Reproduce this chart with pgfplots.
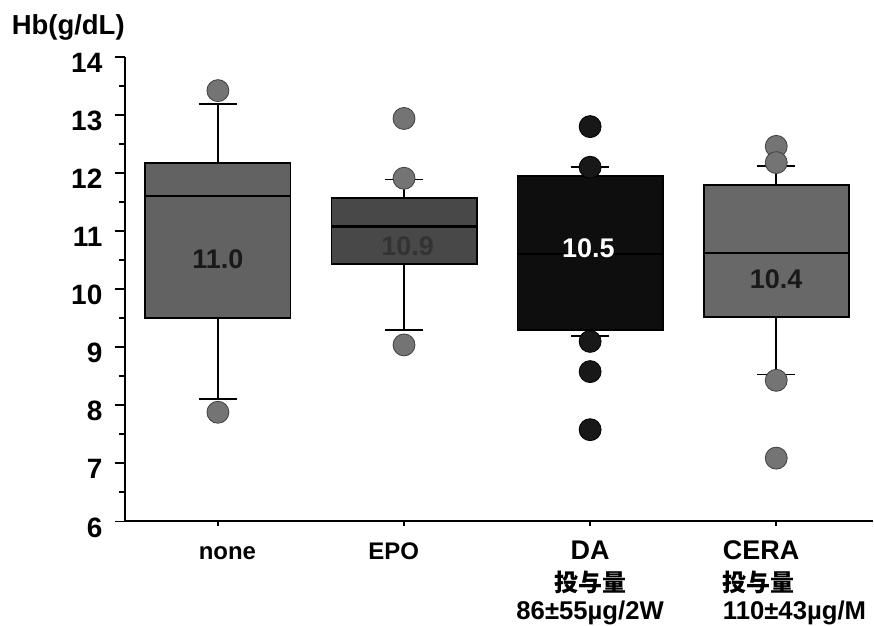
\documentclass[border=0pt]{standalone}
\usepackage{fontspec}
\setmainfont{Liberation Sans}
\newfontfamily\cjk{Noto Sans CJK JP}
\usepackage{pgfplots}
\pgfplotsset{compat=1.18}
\usepgfplotslibrary{statistics}

\definecolor{boxnone}{RGB}{98,98,98}
\definecolor{boxepo}{RGB}{72,72,72}
\definecolor{boxda}{RGB}{14,14,14}
\definecolor{boxcera}{RGB}{104,104,104}
\definecolor{dotgray}{RGB}{116,116,116}
\definecolor{dotdark}{RGB}{24,24,24}

% bold text at a given size
\newcommand\fs[1]{\fontsize{#1}{#1}\selectfont\bfseries}
% one zero-size line of a tick label: horizontal shift, raise, text (centred)
\newcommand\lineat[3]{\makebox[0pt]{\hspace*{#1}\raisebox{#2}[0pt][0pt]{#3}}}
% same, left aligned at the given offset
\newcommand\lineatl[3]{\makebox[0pt][l]{\hspace*{#1}\raisebox{#2}[0pt][0pt]{#3}}}

\begin{document}
\begin{tikzpicture}
\begin{axis}[
  at={(0,0)}, anchor=south west,
  scale only axis, width=749pt, height=465pt,
  xmin=-0.5, xmax=3.52, ymin=6, ymax=14,
  axis lines=left,
  axis line style={-, line width=2pt},
  tick align=outside,
  ytick={6,7,...,14},
  minor ytick={6.5,7.5,...,13.5},
  major tick length=10pt, minor tick length=6pt,
  tick style={line width=1.8pt, black},
  xtick style={/pgfplots/major tick length=5pt},
  xtick={0,1,2,3},
  xticklabels={
    {\lineat{19pt}{0pt}{\fs{24}none}},
    {\lineat{-20.6pt}{0pt}{\fs{24}EPO}},
    {\lineat{0pt}{0pt}{\fs{27}DA}\lineat{0pt}{-32pt}{\cjk\fs{24}投与量}\lineat{0pt}{-60pt}{\fs{25.7}86±55µg/2W}},
    {\lineatl{-53.3pt}{0pt}{\fs{27}CERA}\lineatl{-53.3pt}{-32pt}{\cjk\fs{24}投与量}\lineatl{-53.3pt}{-60pt}{\fs{25.7}110±43µg/M}}
  },
  xticklabel style={anchor=base, inner sep=0pt, yshift=-28pt},
  yticklabel style={font=\fs{28}, yshift=-6pt, xshift=-9pt},
  /pgf/number format/assume math mode=true,
  boxplot/draw direction=y,
  boxplot/box extend=0.78,
  boxplot/whisker extend=0.204,
  boxplot/every median/.style={line width=2.2pt},
  clip=false,
]
% boxes with whiskers
\addplot[boxplot prepared={draw position=0, median=11.60,
    upper quartile=12.18, lower quartile=9.50,
    upper whisker=13.19, lower whisker=8.11},
  draw=black, line width=1.8pt, fill=boxnone] coordinates {};
\addplot[boxplot prepared={draw position=1, median=11.08,
    upper quartile=11.57, lower quartile=10.43,
    upper whisker=11.89, lower whisker=9.30},
  draw=black, line width=1.8pt, fill=boxepo] coordinates {};
\addplot[boxplot prepared={draw position=2, median=10.60,
    upper quartile=11.95, lower quartile=9.30,
    upper whisker=12.11, lower whisker=9.19},
  draw=black, line width=1.8pt, fill=boxda] coordinates {};
\addplot[boxplot prepared={draw position=3, median=10.62,
    upper quartile=11.80, lower quartile=9.52,
    upper whisker=12.12, lower whisker=8.53},
  draw=black, line width=1.8pt, fill=boxcera] coordinates {};

% individual points
\addplot[only marks, mark=*, mark size=11pt,
  mark options={fill=dotgray, draw=black!75, line width=0.8pt}]
  coordinates {(0,13.42) (0,7.88) (1,12.94) (1,11.91) (1,9.04)
               (3,12.46) (3,12.18) (3,8.43) (3,7.09)};
\addplot[only marks, mark=*, mark size=11pt,
  mark options={fill=dotdark, draw=black, line width=0.8pt}]
  coordinates {(2,12.80) (2,12.10) (2,9.10) (2,8.58) (2,7.58)};

% values written in the boxes
\node[font=\fs{27}, text=black!90] at (axis cs:0,10.51) {11.0};
\node[font=\fs{27}, text=black!80] at (axis cs:1.02,10.74) {10.9};
\node[font=\fs{27}, text=white] at (axis cs:1.99,10.71) {10.5};
\node[font=\fs{27}, text=black!90] at (axis cs:3.0,10.17) {10.4};

% axis title
\node[anchor=base east, inner sep=0pt, font=\fs{27.5}, yshift=22pt]
  at (rel axis cs:0,1) {Hb(g/dL)};
\end{axis}
\path (-125pt,-104pt) rectangle (749pt,522pt);
\end{tikzpicture}
\end{document}
